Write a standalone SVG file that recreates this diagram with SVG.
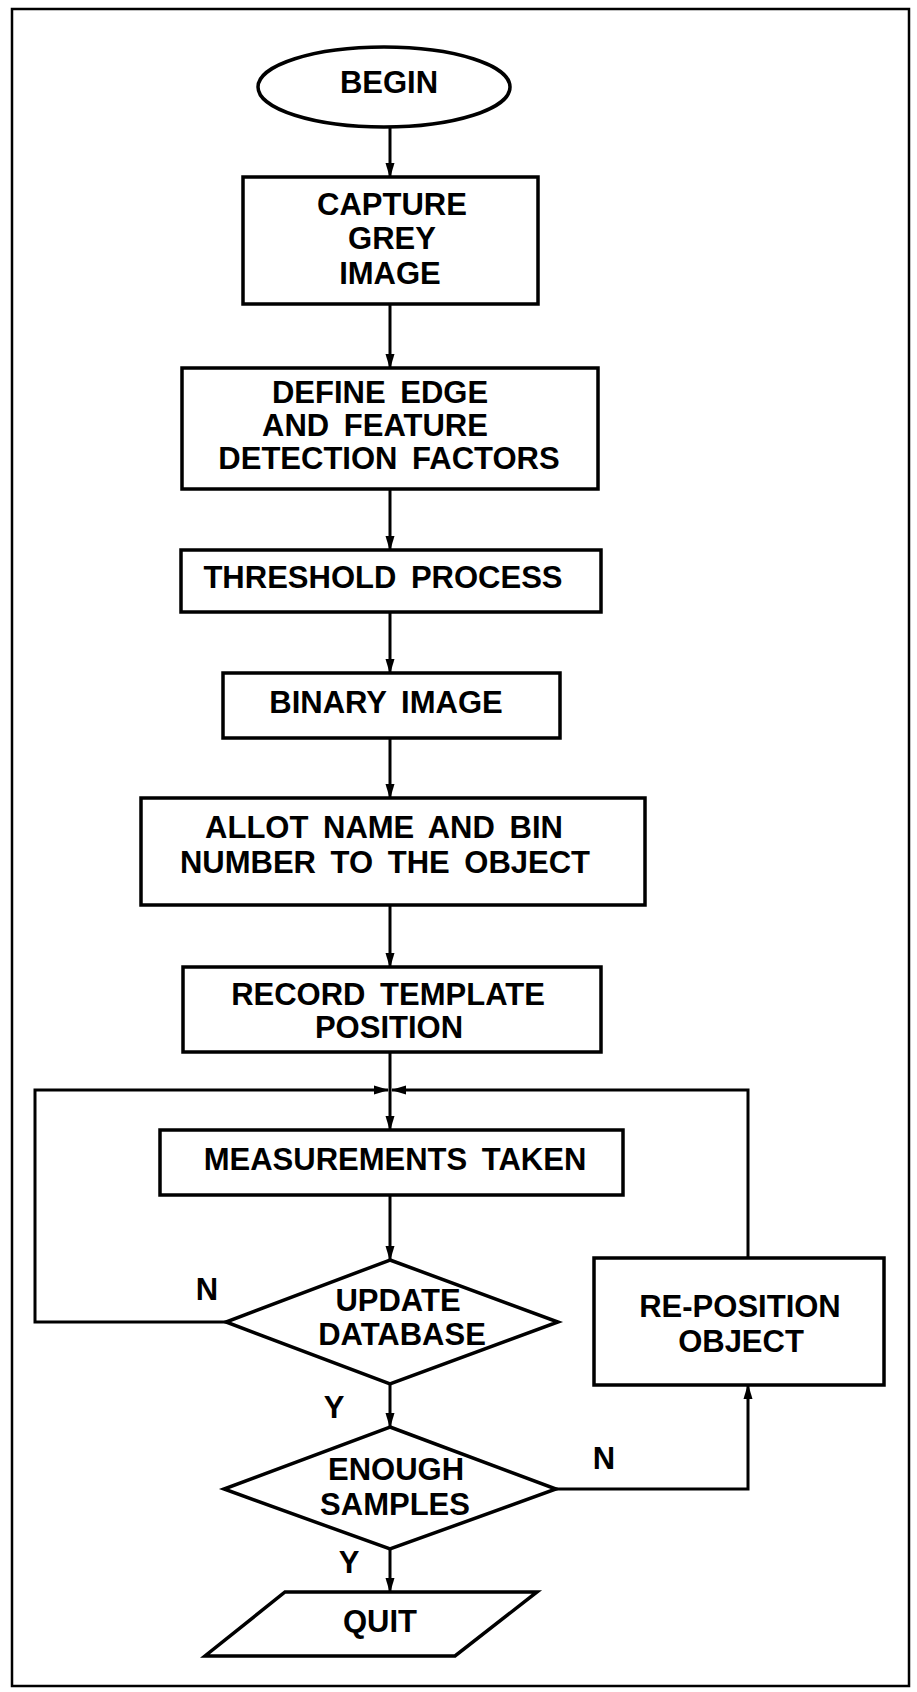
<svg xmlns="http://www.w3.org/2000/svg" width="917" height="1692" viewBox="0 0 917 1692">
<defs>
<marker id="ah" markerUnits="userSpaceOnUse" markerWidth="15" markerHeight="10" refX="14" refY="5" orient="auto">
<path d="M0,0.5 L15,5 L0,9.5 z" fill="#000"/>
</marker>
<style>
.shape{fill:#fff;stroke:#000;stroke-width:3.5;stroke-linejoin:miter}
.conn{fill:none;stroke:#000;stroke-width:3}
.t{font-family:"Liberation Sans",Arial,Helvetica,sans-serif;font-weight:bold;font-size:31px;word-spacing:6px;fill:#000;text-anchor:middle}
</style>
</defs>
<rect x="0" y="0" width="917" height="1692" fill="#fff"/>
<rect x="12" y="9" width="897" height="1677" fill="none" stroke="#000" stroke-width="2.5"/>

<g id="connectors">
<path class="conn" d="M390,126 V177" marker-end="url(#ah)"/>
<path class="conn" d="M390,304 V368" marker-end="url(#ah)"/>
<path class="conn" d="M390,489 V550" marker-end="url(#ah)"/>
<path class="conn" d="M390,612 V673" marker-end="url(#ah)"/>
<path class="conn" d="M390,738 V798" marker-end="url(#ah)"/>
<path class="conn" d="M390,905 V967" marker-end="url(#ah)"/>
<path class="conn" d="M390,1052 V1130" marker-end="url(#ah)"/>
<path class="conn" d="M390,1195 V1260" marker-end="url(#ah)"/>
<path class="conn" d="M226,1322 H35 V1090 H388" marker-end="url(#ah)"/>
<path class="conn" d="M390,1384 V1427" marker-end="url(#ah)"/>
<path class="conn" d="M556,1489 H748 V1385" marker-end="url(#ah)"/>
<path class="conn" d="M748,1258 V1090 H392" marker-end="url(#ah)"/>
<path class="conn" d="M390,1549 V1592" marker-end="url(#ah)"/>
</g>

<g id="begin">
<ellipse class="shape" cx="384" cy="87" rx="126" ry="40"/>
<text class="t" x="389" y="93">BEGIN</text>
</g>
<g id="capture">
<rect class="shape" x="243" y="177" width="295" height="127"/>
<text class="t" x="392" y="215">CAPTURE</text>
<text class="t" x="392" y="249">GREY</text>
<text class="t" x="390" y="284">IMAGE</text>
</g>
<g id="define">
<rect class="shape" x="182" y="368" width="416" height="121"/>
<text class="t" x="380" y="403">DEFINE EDGE</text>
<text class="t" x="375" y="436">AND FEATURE</text>
<text class="t" x="389" y="469">DETECTION FACTORS</text>
</g>
<g id="threshold">
<rect class="shape" x="181" y="550" width="420" height="62"/>
<text class="t" x="383" y="588">THRESHOLD PROCESS</text>
</g>
<g id="binary">
<rect class="shape" x="223" y="673" width="337" height="65"/>
<text class="t" x="386" y="713">BINARY IMAGE</text>
</g>
<g id="allot">
<rect class="shape" x="141" y="798" width="504" height="107"/>
<text class="t" x="384" y="838">ALLOT NAME AND BIN</text>
<text class="t" x="385" y="873">NUMBER TO THE OBJECT</text>
</g>
<g id="record">
<rect class="shape" x="183" y="967" width="418" height="85"/>
<text class="t" x="388" y="1005">RECORD TEMPLATE</text>
<text class="t" x="389" y="1038">POSITION</text>
</g>
<g id="measurements">
<rect class="shape" x="160" y="1130" width="463" height="65"/>
<text class="t" x="395" y="1170">MEASUREMENTS TAKEN</text>
</g>
<g id="update">
<polygon class="shape" points="390,1260 558,1322 390,1384 226,1322"/>
<text class="t" x="398" y="1311">UPDATE</text>
<text class="t" x="402" y="1345">DATABASE</text>
</g>
<g id="reposition">
<rect class="shape" x="594" y="1258" width="290" height="127"/>
<text class="t" x="740" y="1317">RE-POSITION</text>
<text class="t" x="741" y="1352">OBJECT</text>
</g>
<g id="enough">
<polygon class="shape" points="390,1427 556,1489 390,1549 224,1489"/>
<text class="t" x="396" y="1480">ENOUGH</text>
<text class="t" x="395" y="1515">SAMPLES</text>
</g>
<g id="quit">
<polygon class="shape" points="285,1592 537,1592 455,1656 205,1656"/>
<text class="t" x="380" y="1632">QUIT</text>
</g>
<g id="labels">
<text class="t" x="207" y="1300">N</text>
<text class="t" x="334" y="1418">Y</text>
<text class="t" x="604" y="1469">N</text>
<text class="t" x="349" y="1573">Y</text>
</g>
</svg>
